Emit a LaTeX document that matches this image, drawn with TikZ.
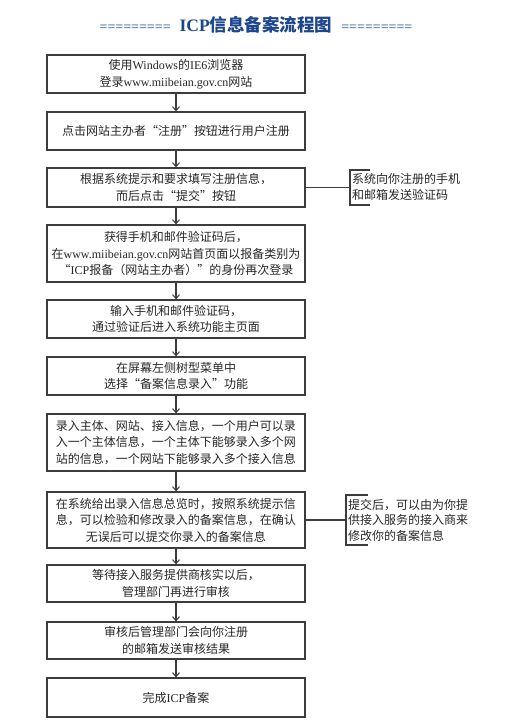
\documentclass[tikz,border=0pt]{standalone}
\usepackage{fontspec}
\setmainfont{Liberation Serif}
\newfontfamily\cjk{Noto Sans CJK SC}
\usetikzlibrary{arrows.meta}
\definecolor{titleblue}{RGB}{30,70,140}
\definecolor{linegray}{RGB}{60,60,60}
\newcommand{\lt}[1]{{\rmfamily #1}}
\begin{document}
\begin{tikzpicture}[x=1pt,y=-1pt,
  stepbox/.style={draw=linegray,line width=1.3pt,minimum width=258pt,inner sep=0pt,align=center,
    font=\cjk\fontsize{12}{16.5}\selectfont,text=black!85},
  note/.style={anchor=west,align=left,inner sep=0pt,font=\cjk\fontsize{12}{15.5}\selectfont,text=black!85},
  flow/.style={draw=linegray,line width=1.3pt,-{Straight Barb[length=4pt,width=7pt,line width=1pt]}},
  link/.style={draw=linegray,line width=1.3pt}]
\useasboundingbox (0,0) rectangle (528,721);
\node (title) at (256,25) {\textcolor{titleblue}{\fontsize{14}{16}\selectfont =========\hspace{9pt}{\fontsize{17.5}{20}\selectfont\bfseries ICP{\cjk 信息备案流程图}}\hspace{9pt}=========}};
\node[stepbox,minimum height=38pt] (b1) at (176,74) {使用\lt{Windows}的\lt{IE6}浏览器\\登录\lt{www.miibeian.gov.cn}网站};
\node[stepbox,minimum height=38pt] (b2) at (176,131) {点击网站主办者“注册”按钮进行用户注册};
\node[stepbox,minimum height=39pt] (b3) at (176,187.5) {根据系统提示和要求填写注册信息，\\而后点击“提交”按钮};
\node[stepbox,minimum height=57pt] (b4) at (176,253.5) {获得手机和邮件验证码后，\\在\lt{www.miibeian.gov.cn}网站首页面以报备类别为\\“\lt{ICP}报备（网站主办者）”的身份再次登录};
\node[stepbox,minimum height=38pt] (b5) at (176,319) {输入手机和邮件验证码，\\通过验证后进入系统功能主页面};
\node[stepbox,minimum height=38pt] (b6) at (176,376) {在屏幕左侧树型菜单中\\选择“备案信息录入”功能};
\node[stepbox,minimum height=57pt] (b7) at (176,442.5) {录入主体、网站、接入信息，一个用户可以录\\入一个主体信息，一个主体下能够录入多个网\\站的信息，一个网站下能够录入多个接入信息};
\node[stepbox,minimum height=56pt] (b8) at (176,520) {在系统给出录入信息总览时，按照系统提示信\\息，可以检验和修改录入的备案信息，在确认\\无误后可以提交你录入的备案信息};
\node[stepbox,minimum height=37pt] (b9) at (176,583.5) {等待接入服务提供商核实以后，\\管理部门再进行审核};
\node[stepbox,minimum height=37pt] (b10) at (176,640.5) {审核后管理部门会向你注册\\的邮箱发送审核结果};
\node[stepbox,minimum height=39pt] (b11) at (176,697.5) {完成\lt{ICP}备案};
\foreach \a/\b in {b1/b2,b2/b3,b3/b4,b4/b5,b5/b6,b6/b7,b7/b8,b8/b9,b9/b10,b10/b11}
  \draw[flow] (\a) -- (\b);
% side notes
\node[note] (n1) at (352,187) {系统向你注册的手机\\和邮箱发送验证码};
\coordinate (k1t) at (350,170);
\coordinate (k1b) at (350,205);
\draw[link] (b3.east) -- (b3.east -| k1t);
\draw[link] ([xshift=20pt]k1t) -- (k1t) -- (k1b) -- ([xshift=20pt]k1b);
\node[note] (n2) at (348,520) {提交后，可以由为你提\\供接入服务的接入商来\\修改你的备案信息};
\coordinate (k2t) at (346,495);
\coordinate (k2b) at (346,545);
\draw[link] (b8.east) -- (b8.east -| k2t);
\draw[link] ([xshift=22pt]k2t) -- (k2t) -- (k2b) -- ([xshift=22pt]k2b);
\end{tikzpicture}
\end{document}
